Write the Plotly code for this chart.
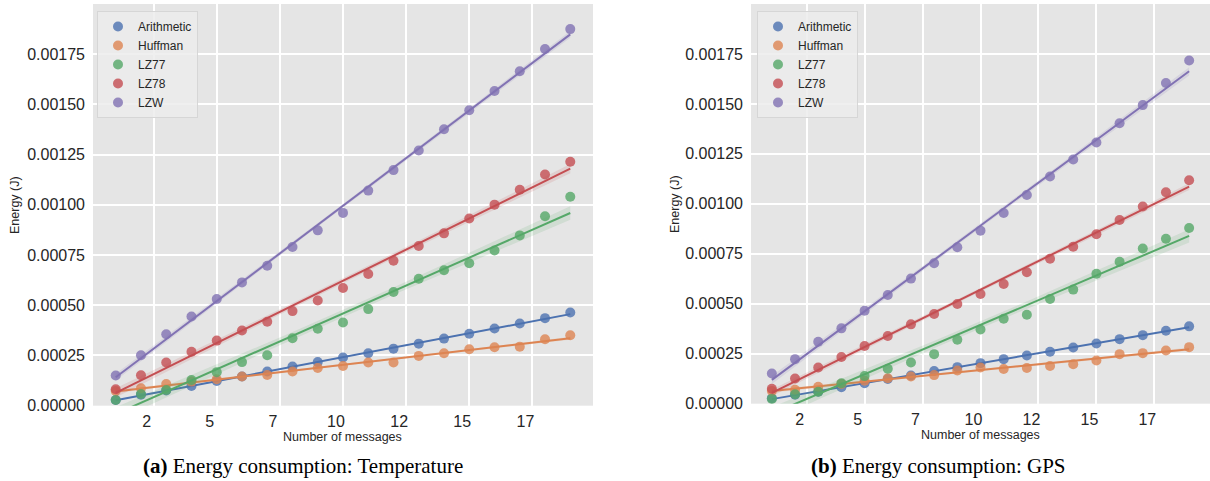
import numpy as np
import plotly.graph_objects as go

# ---------------- data ----------------
MESSAGES = list(range(1, 20))
SERIES = ["Arithmetic", "Huffman", "LZ77", "LZ78", "LZW"]

arith_temp = [0.000028, 0.000055, 0.000076, 0.000098, 0.000123, 0.000145, 0.000170, 0.000195, 0.000217, 0.000240,
              0.000261, 0.000284, 0.000309, 0.000334, 0.000358, 0.000384, 0.000409, 0.000436, 0.000464]
huff_temp = [0.000073, 0.000087, 0.000108, 0.000120, 0.000132, 0.000145, 0.000153, 0.000170, 0.000188, 0.000198,
             0.000215, 0.000215, 0.000248, 0.000261, 0.000281, 0.000291, 0.000294, 0.000331, 0.000351]
lz77_temp = [0.000028, 0.000058, 0.000078, 0.000128, 0.000167, 0.000217, 0.000251, 0.000336, 0.000383, 0.000414,
             0.000481, 0.000566, 0.000632, 0.000674, 0.000709, 0.000773, 0.000848, 0.000943, 0.001040]
lz78_temp = [0.000082, 0.000152, 0.000215, 0.000269, 0.000324, 0.000374, 0.000418, 0.000471, 0.000524, 0.000586,
             0.000656, 0.000722, 0.000795, 0.000858, 0.000932, 0.001001, 0.001075, 0.001151, 0.001215]
lzw_temp = [0.000150, 0.000251, 0.000356, 0.000444, 0.000531, 0.000614, 0.000697, 0.000790, 0.000873, 0.000960,
            0.001071, 0.001173, 0.001271, 0.001376, 0.001471, 0.001567, 0.001665, 0.001776, 0.001875]

arith_gps = [0.000027, 0.000045, 0.000060, 0.000082, 0.000102, 0.000124, 0.000141, 0.000164, 0.000183, 0.000203,
             0.000223, 0.000241, 0.000260, 0.000281, 0.000301, 0.000323, 0.000343, 0.000365, 0.000387]
huff_gps = [0.000064, 0.000070, 0.000085, 0.000099, 0.000115, 0.000127, 0.000136, 0.000143, 0.000166, 0.000181,
            0.000174, 0.000179, 0.000189, 0.000198, 0.000216, 0.000248, 0.000253, 0.000266, 0.000283]
lz77_gps = [0.000024, 0.000047, 0.000060, 0.000102, 0.000138, 0.000175, 0.000206, 0.000248, 0.000320, 0.000371,
            0.000425, 0.000445, 0.000524, 0.000571, 0.000650, 0.000710, 0.000777, 0.000825, 0.000879]
lz78_gps = [0.000075, 0.000126, 0.000181, 0.000234, 0.000289, 0.000339, 0.000397, 0.000449, 0.000499, 0.000549,
            0.000599, 0.000658, 0.000725, 0.000785, 0.000848, 0.000919, 0.000987, 0.001058, 0.001118]
lzw_gps = [0.000151, 0.000223, 0.000310, 0.000377, 0.000465, 0.000544, 0.000626, 0.000703, 0.000783, 0.000866,
           0.000954, 0.001044, 0.001137, 0.001222, 0.001307, 0.001403, 0.001494, 0.001605, 0.001717]

X_TICKS = [2.5, 5, 7.5, 10, 12.5, 15, 17.5]
X_TICK_LABELS = ["2", "5", "7", "10", "12", "15", "17"]
Y_TICKS = [0, 0.00025, 0.0005, 0.00075, 0.001, 0.00125, 0.0015, 0.00175]

# ---------------- style ----------------
W, H = 1210, 481
COLORS = ["#4C72B0", "#DD8452", "#55A868", "#C44E52", "#8172B3"]
TICK_FONT = dict(family="Liberation Sans, Arial, sans-serif", size=16, color="#262626")
LABEL_FONT = dict(family="Liberation Sans, Arial, sans-serif", size=12.5, color="#262626")
CAP_FONT = dict(family="Liberation Serif, Times New Roman, serif", size=21, color="#000000")


def rgba(hex_color, a):
    h = hex_color.lstrip("#")
    r, g, b = int(h[0:2], 16), int(h[2:4], 16), int(h[4:6], 16)
    return f"rgba({r},{g},{b},{a})"


def px_x(p):
    return p / W


def px_y(p):
    return 1 - p / H


fig = go.Figure()

panels = [
    dict(data=[arith_temp, huff_temp, lz77_temp, lz78_temp, lzw_temp], xa="x", ya="y", legend="legend"),
    dict(data=[arith_gps, huff_gps, lz77_gps, lz78_gps, lzw_gps], xa="x2", ya="y2", legend="legend2"),
]

x = np.array(MESSAGES, dtype=float)
xg = np.linspace(x.min(), x.max(), 100)
n = len(x)
t_crit = 2.1098  # t(0.975, df=17)

for panel in panels:
    for name, ys, col in zip(SERIES, panel["data"], COLORS):
        y = np.array(ys)
        slope, icpt = np.polyfit(x, y, 1)
        fit = slope * xg + icpt
        resid = y - (slope * x + icpt)
        s = np.sqrt(np.sum(resid ** 2) / (n - 2))
        sxx = np.sum((x - x.mean()) ** 2)
        se = s * np.sqrt(1 / n + (xg - x.mean()) ** 2 / sxx)
        lo, hi = fit - t_crit * se, fit + t_crit * se

        fig.add_trace(go.Scatter(
            x=MESSAGES, y=ys, mode="markers", name=name,
            marker=dict(color=col, size=10, opacity=0.8, line=dict(width=0)),
            xaxis=panel["xa"], yaxis=panel["ya"], legend=panel["legend"],
            showlegend=True, hoverinfo="skip"))
        fig.add_trace(go.Scatter(
            x=np.concatenate([xg, xg[::-1]]), y=np.concatenate([hi, lo[::-1]]),
            mode="lines", fill="toself", fillcolor=rgba(col, 0.15), line=dict(width=0),
            xaxis=panel["xa"], yaxis=panel["ya"], showlegend=False, hoverinfo="skip"))
        fig.add_trace(go.Scatter(
            x=xg, y=fit, mode="lines", line=dict(color=col, width=2),
            xaxis=panel["xa"], yaxis=panel["ya"], showlegend=False, hoverinfo="skip"))

common_x = dict(range=[0.1, 19.9], tickvals=X_TICKS, ticktext=X_TICK_LABELS, showgrid=True,
                gridcolor="white", gridwidth=1.5, zeroline=False, showline=False, ticks="",
                tickfont=TICK_FONT, ticklabelshift=-7, ticklabelstandoff=4, automargin=False)
common_y = dict(range=[0, 0.002], tickvals=Y_TICKS, tickformat=".5f", showgrid=True,
                gridcolor="white", gridwidth=1.5, zeroline=False, showline=False, ticks="",
                tickfont=TICK_FONT, ticklabelstandoff=7, automargin=False)

legend_style = dict(bgcolor="rgba(236,236,236,0.85)", bordercolor="#d6d6d6", borderwidth=1,
                    font=dict(family="Liberation Sans, Arial, sans-serif", size=12, color="#262626"),
                    xanchor="left", yanchor="top", tracegroupgap=0, itemsizing="trace")

fig.update_layout(
    width=W, height=H,
    margin=dict(l=0, r=0, t=0, b=0, pad=0, autoexpand=False),
    paper_bgcolor="white", plot_bgcolor="#E5E5E5",
    xaxis=dict(domain=[px_x(93), px_x(593)], anchor="y", **common_x),
    yaxis=dict(domain=[px_y(405.7), px_y(4)], anchor="x", **common_y),
    xaxis2=dict(domain=[px_x(751), 1.0], anchor="y2", **common_x),
    yaxis2=dict(domain=[px_y(403.7), px_y(4)], anchor="x2", **common_y),
    legend=dict(x=px_x(97), y=px_y(11), **legend_style),
    legend2=dict(x=px_x(757), y=px_y(11), **legend_style),
    showlegend=True,
)

annos = [
    dict(text="Energy (J)", x=px_x(15), y=px_y(205), textangle=-90, font=LABEL_FONT),
    dict(text="Energy (J)", x=px_x(675), y=px_y(204), textangle=-90, font=LABEL_FONT),
    dict(text="Number of messages", x=px_x(342), y=px_y(437), font=LABEL_FONT),
    dict(text="Number of messages", x=px_x(980), y=px_y(435), font=LABEL_FONT),
    dict(text="<b>(a)</b> Energy consumption: Temperature", x=px_x(303.5), y=px_y(466), font=CAP_FONT),
    dict(text="<b>(b)</b> Energy consumption: GPS", x=px_x(938), y=px_y(466), font=CAP_FONT),
]
for a in annos:
    fig.add_annotation(xref="paper", yref="paper", showarrow=False, xanchor="center", yanchor="middle", **a)

fig.write_html("out.html")
